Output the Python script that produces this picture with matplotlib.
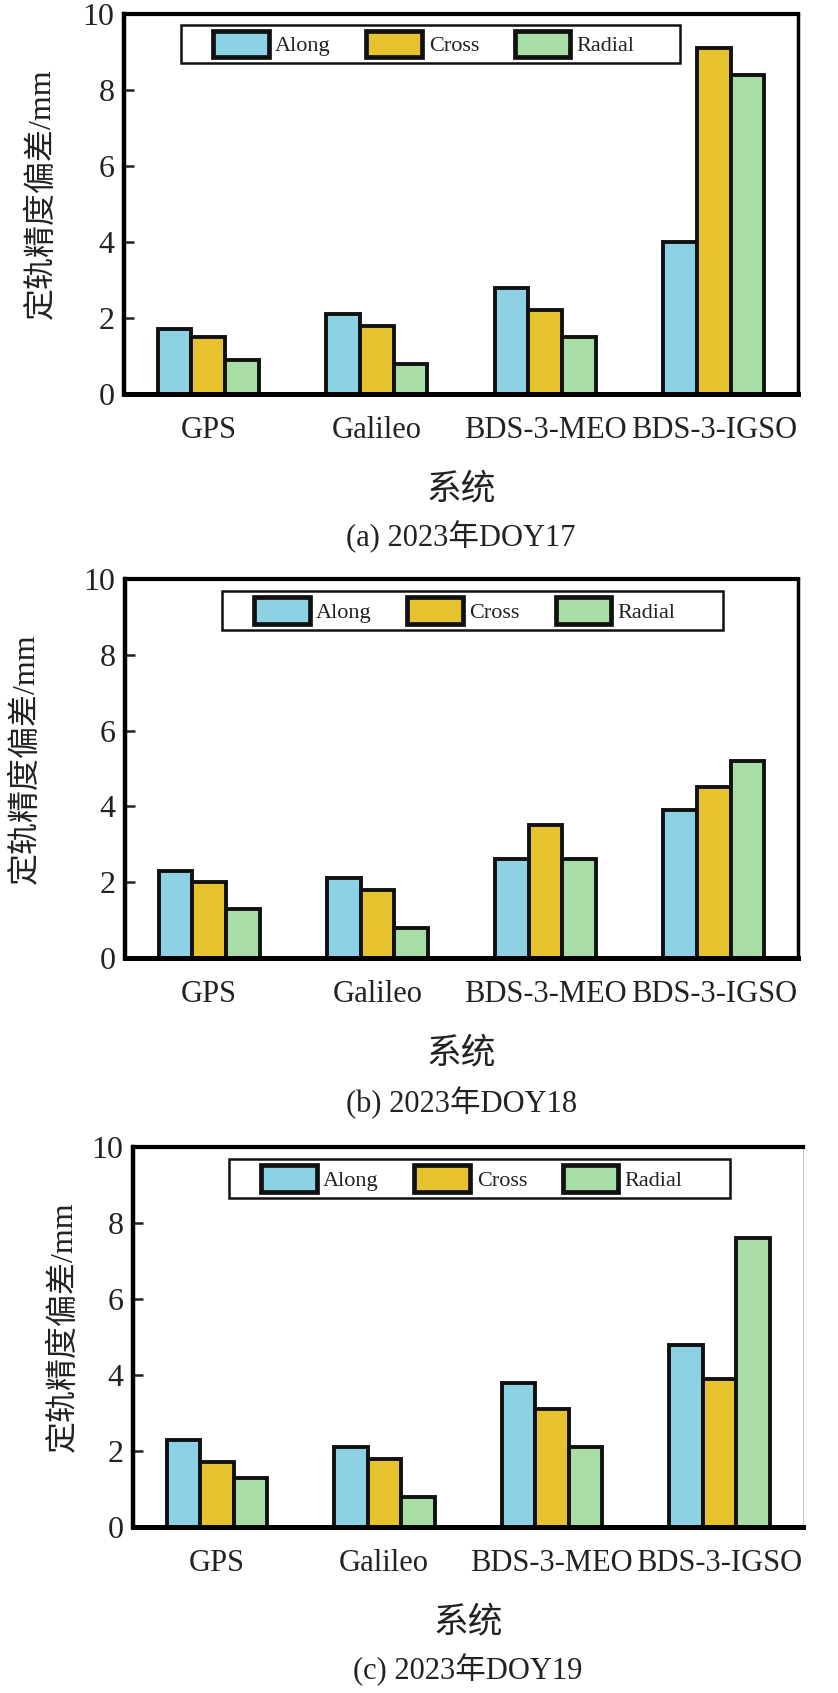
import matplotlib
matplotlib.use("Agg")
import matplotlib.pyplot as plt
import matplotlib.patches as mpatches
import numpy as np

# ── Data ───────────────────────────────────────────────────
systems = ["GPS", "Galileo", "BDS-3-MEO", "BDS-3-IGSO"]
components = ["Along", "Cross", "Radial"]

doy17_along = [1.7, 2.1, 2.8, 4.0]
doy17_cross = [1.5, 1.8, 2.2, 9.1]
doy17_radial = [0.9, 0.8, 1.5, 8.4]

doy18_along = [2.3, 2.1, 2.6, 3.9]
doy18_cross = [2.0, 1.8, 3.5, 4.5]
doy18_radial = [1.3, 0.8, 2.6, 5.2]

doy19_along = [2.3, 2.1, 3.8, 4.8]
doy19_cross = [1.7, 1.8, 3.1, 3.9]
doy19_radial = [1.3, 0.8, 2.1, 7.6]

captions = ["(a) 2023年DOY17", "(b) 2023年DOY18", "(c) 2023年DOY19"]

# ── Style ──────────────────────────────────────────────────
BLUE = "#8DD1E4"
YELLOW = "#E6C22E"
GREEN = "#A8DEA6"
EDGE = "#111111"
TXT = "#222222"
FONTS = ["Liberation Serif", "Noto Sans CJK SC"]

plt.rcParams.update({
    "font.family": FONTS,
    "font.size": 22,
    "text.color": TXT,
    "axes.labelcolor": TXT,
    "xtick.color": TXT,
    "ytick.color": TXT,
})

W, H = 838, 1693
fig = plt.figure(figsize=(W / 100, H / 100), dpi=100)


def px_axes(left, top, right, bottom):
    return fig.add_axes([left / W, 1 - bottom / H, (right - left) / W, (bottom - top) / H])


# pixel boxes: axes (l, t, r, b), legend frame (l, t, r, b), ylabel x, label rows y
panels = [
    dict(ax=(124, 14, 798, 394), leg=(181, 25, 680, 63), ylx=42, rows=(435, 490, 537),
         data=(doy17_along, doy17_cross, doy17_radial), right_lw=2.5),
    dict(ax=(125, 579, 798, 958), leg=(222, 591, 723, 630), ylx=26, rows=(999, 1054, 1103),
         data=(doy18_along, doy18_cross, doy18_radial), right_lw=2.5),
    dict(ax=(133, 1147, 803, 1527), leg=(229, 1159, 730, 1198), ylx=64, rows=(1566, 1623, 1670),
         data=(doy19_along, doy19_cross, doy19_radial), right_lw=0.6),
]

x = np.arange(len(systems))
width = 0.2

for p, cap in zip(panels, captions):
    l, t, r, b = p["ax"]
    ax = px_axes(l, t, r, b)
    along, cross, radial = p["data"]
    for off, vals, col, lab in zip((-width, 0, width), (along, cross, radial),
                                   (BLUE, YELLOW, GREEN), components):
        ax.bar(x + off, vals, width, color=col, edgecolor=EDGE, linewidth=2.8,
               label=lab, zorder=3)

    ax.set_xlim(-0.5, 3.5)
    ax.set_ylim(0, 10)
    ax.set_yticks([0, 2, 4, 6, 8, 10])
    ax.set_xticks(x)
    ax.set_xticklabels(systems)
    ax.tick_params(axis="x", length=0, pad=16, labelsize=22)
    ax.tick_params(axis="y", direction="in", length=7, width=1.8, pad=7, labelsize=23)

    ax.spines["left"].set_linewidth(3.2)
    ax.spines["bottom"].set_linewidth(3.6)
    ax.spines["top"].set_linewidth(3.0)
    ax.spines["right"].set_linewidth(p["right_lw"])
    if p["right_lw"] < 1:
        ax.spines["right"].set_color("#bbbbbb")
    for s in ax.spines.values():
        s.set_zorder(5)

    # legend: frame drawn separately so padding matches the original box
    ll, lt, lr, lb = p["leg"]
    fx0 = (ll - l) / (r - l)
    fy0 = (b - lb) / (b - t)
    fw = (lr - ll) / (r - l)
    fh = (lb - lt) / (b - t)
    ax.add_patch(mpatches.Rectangle((fx0, fy0), fw, fh, transform=ax.transAxes,
                                    facecolor="white", edgecolor=EDGE, linewidth=1.8,
                                    zorder=6))
    leg = ax.legend(loc="center left", bbox_to_anchor=((ll + 32 - l) / (r - l), fy0 + fh / 2),
                    ncol=3, fontsize=16, frameon=False,
                    handlelength=2.5, handleheight=1.45, handletextpad=0.3,
                    columnspacing=1.6, borderpad=0, borderaxespad=0)
    leg.set_zorder(7)
    for h in leg.legend_handles:
        h.set_linewidth(3.4)

    cx = (l + r) / 2 / W
    fig.text(p["ylx"] / W, 1 - ((t + b) / 2 - 10) / H, "定轨精度偏差/mm", rotation=90,
             ha="center", va="center", fontsize=23, fontweight="light")
    fig.text(cx, 1 - p["rows"][1] / H, "系统", ha="center", va="center", fontsize=25,
             fontweight="light")
    fig.text(cx, 1 - p["rows"][2] / H, cap, ha="center", va="center", fontsize=22)

plt.savefig("out.png", dpi=100)
plt.close()
print("Saved out.png")
